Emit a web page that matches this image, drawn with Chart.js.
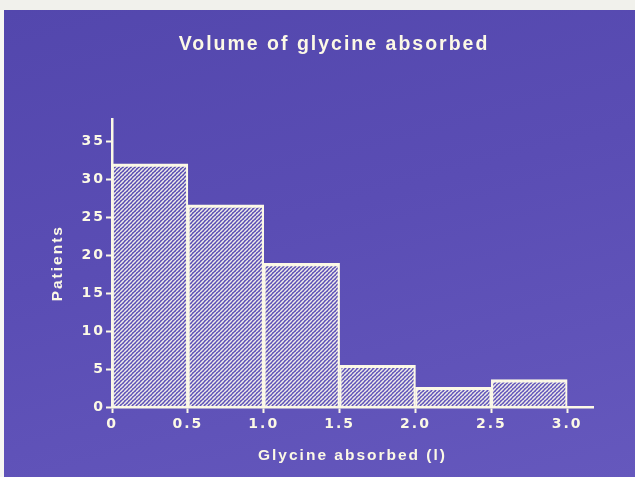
<!DOCTYPE html>
<html><head><meta charset="utf-8">
<script src="https://cdn.jsdelivr.net/npm/chart.js@4.4.1/dist/chart.umd.min.js"></script>
<style>
html,body{margin:0;padding:0;width:635px;height:477px;overflow:hidden;background:#f1f1ec;}
#left{position:absolute;left:0;top:10px;width:4px;height:467px;background:#f7f7f3;}
#slide{position:absolute;left:4px;top:10px;width:631px;height:467px;background:linear-gradient(165deg,#5347ad 0%,#5a4db4 45%,#6558bd 100%);}
canvas{position:absolute;left:0;top:0;}
</style></head><body>
<div id="left"></div><div id="slide"></div>
<canvas id="c" width="635" height="477"></canvas>
<script>
// ---- data ----
const binEdges = [0, 0.5, 1.0, 1.5, 2.0, 2.5, 3.0];
const patients = [32, 26.6, 18.9, 5.5, 2.6, 3.6];
const xTickValues = [0, 0.5, 1.0, 1.5, 2.0, 2.5, 3.0];
const xTickLabels = ['0', '0.5', '1.0', '1.5', '2.0', '2.5', '3.0'];
const yTickValues = [0, 5, 10, 15, 20, 25, 30, 35];
const titleText = 'Volume of glycine absorbed';
const xTitle = 'Glycine absorbed (l)';
const yTitle = 'Patients';

// ---- styling ----
const ink = '#fcf9e6';
const pc = document.createElement('canvas');
pc.width = 4; pc.height = 4;
const pctx = pc.getContext('2d');
pctx.strokeStyle = 'rgba(245,243,235,0.95)';
pctx.lineWidth = 1.5;
pctx.beginPath();
for (let k = -2; k <= 2; k++) { pctx.moveTo(k * 4, 4); pctx.lineTo(k * 4 + 4, 0); }
pctx.stroke();
const hatch = pctx.createPattern(pc, 'repeat');

const spacingPlugin = {
  id: 'spacing',
  beforeInit(chart) { chart.ctx.letterSpacing = '2px'; },
  beforeUpdate(chart) { chart.ctx.letterSpacing = '2px'; },
  beforeDraw(chart) { chart.ctx.letterSpacing = '2px'; }
};

const tickFont = { family: 'DejaVu Sans', size: 14, weight: 'bold' };
const titleFont = { family: 'Liberation Sans', size: 15.5, weight: 'bold' };

new Chart(document.getElementById('c'), {
  type: 'bar',
  data: {
    datasets: [{
      data: patients.map((p, i) => ({ x: (binEdges[i] + binEdges[i + 1]) / 2, y: p })),
      backgroundColor: hatch,
      borderColor: ink,
      borderWidth: { top: 2.5, left: 1.5, right: 1.5, bottom: 0 },
      borderSkipped: false,
      barPercentage: 1,
      categoryPercentage: 1
    }]
  },
  plugins: [spacingPlugin],
  options: {
    responsive: false,
    animation: false,
    devicePixelRatio: 1,
    layout: { padding: { left: 75, right: 42, top: 0, bottom: 10 } },
    plugins: {
      legend: { display: false },
      tooltip: { enabled: false },
      title: {
        display: true, text: titleText, color: ink,
        font: { family: 'Liberation Sans', size: 19.5, weight: 'bold' },
        padding: { top: 33, bottom: 63 }
      }
    },
    scales: {
      x: {
        type: 'linear', min: 0, max: 3.17, offset: false, z: 1,
        afterBuildTicks: s => { s.ticks = xTickValues.map(v => ({ value: v })); },
        afterFit: s => { s.height = 60; },
        ticks: { callback: (v, i) => xTickLabels[i], color: ink, font: tickFont, padding: 3, maxRotation: 0, autoSkip: false },
        grid: { display: true, offset: false, drawOnChartArea: false, drawTicks: true, tickLength: 6, tickColor: ink, tickWidth: 2 },
        border: { display: true, color: ink, width: 2.5 },
        title: { display: true, text: xTitle, color: ink, font: titleFont, padding: { top: 0, bottom: 2 } }
      },
      y: {
        type: 'linear', min: 0, max: 37.86, z: 1,
        afterBuildTicks: s => { s.ticks = yTickValues.map(v => ({ value: v })); },
        afterFit: s => { s.width = 37; },
        ticks: { callback: v => String(v), color: ink, font: tickFont, padding: 1, autoSkip: false },
        grid: { display: true, drawOnChartArea: false, drawTicks: true, tickLength: 6, tickColor: ink, tickWidth: 2 },
        border: { display: true, color: ink, width: 2.5 },
        title: { display: true, text: yTitle, color: ink, font: titleFont, padding: { top: -27, bottom: 0 } }
      }
    }
  }
});
</script>
</body></html>
